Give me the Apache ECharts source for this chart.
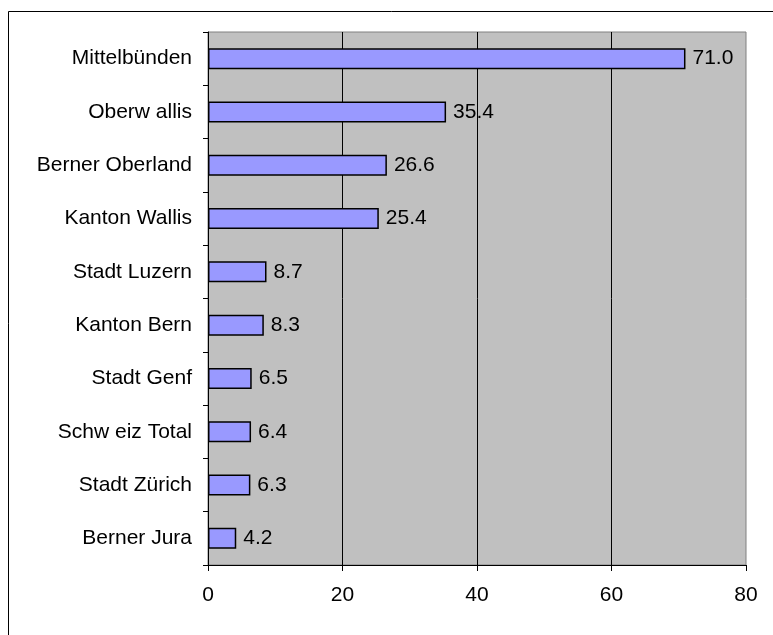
<!DOCTYPE html>
<html>
<head>
<meta charset="utf-8">
<script src="https://cdn.jsdelivr.net/npm/echarts@6/dist/echarts.min.js"></script>
<style>
  html, body { margin: 0; padding: 0; background: #fff; }
  #chart { width: 773px; height: 635px; }
</style>
</head>
<body>
<div id="chart"></div>
<script>
var myChart = echarts.init(document.getElementById('chart'));

// regions, top to bottom
var categories = ['Mittelbünden', 'Oberw allis', 'Berner Oberland', 'Kanton Wallis', 'Stadt Luzern',
                  'Kanton Bern', 'Stadt Genf', 'Schw eiz Total', 'Stadt Zürich', 'Berner Jura'];
var values = [71.0, 35.4, 26.6, 25.4, 8.7, 8.3, 6.5, 6.4, 6.3, 4.2];
var xTicks = [0, 20, 40, 60, 80];

var font = 'Liberation Sans';

var option = {
    animation: false,
    graphic: [{
        type: 'rect',
        shape: { x: 8.5, y: 11.5, width: 800, height: 700 },
        style: { fill: 'none', stroke: '#000', lineWidth: 1 },
        silent: true,
        z: -10
    }],
    grid: {
        left: 208,
        top: 32,
        right: 27,
        bottom: 70,
        show: true,
        backgroundColor: '#C0C0C0',
        borderColor: '#808080',
        borderWidth: 1
    },
    xAxis: {
        type: 'value',
        min: xTicks[0],
        max: xTicks[xTicks.length - 1],
        interval: 20,
        axisLine: { show: true, lineStyle: { color: '#000', width: 1 } },
        axisTick: { show: true, length: 6, lineStyle: { color: '#000' } },
        axisLabel: {
            margin: 20,
            color: '#000',
            fontFamily: font,
            fontSize: 21
        },
        splitLine: {
            show: true,
            showMaxLine: false,
            lineStyle: { color: '#000', width: 1 }
        }
    },
    yAxis: {
        type: 'category',
        inverse: true,
        data: categories,
        axisLine: { show: true, lineStyle: { color: '#000', width: 1 } },
        axisTick: { show: true, length: 5, lineStyle: { color: '#000' } },
        axisLabel: {
            margin: 16,
            color: '#000',
            fontFamily: font,
            fontSize: 21
        },
        splitLine: { show: false }
    },
    series: [{
        type: 'bar',
        data: values,
        barWidth: 21,
        itemStyle: {
            color: '#9999FF',
            borderColor: '#000',
            borderWidth: 1.5
        },
        label: {
            show: true,
            position: 'right',
            distance: 7,
            color: '#000',
            fontFamily: font,
            fontSize: 21,
            formatter: function (p) { return p.value.toFixed(1); }
        }
    }]
};

myChart.setOption(option);
</script>
</body>
</html>
